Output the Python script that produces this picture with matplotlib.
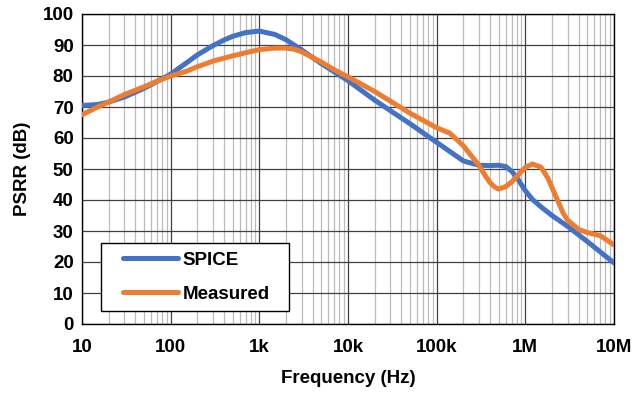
import numpy as np
import matplotlib.pyplot as plt
from matplotlib.patches import Rectangle
from matplotlib.ticker import LogLocator, FixedLocator, NullFormatter

# Данные
spice_f = [10, 15, 20, 30, 50, 70, 100, 150, 200, 300, 400, 500, 700, 1e3, 1.5e3, 2e3, 3e3, 5e3,
           1e4, 2e4, 5e4, 1e5, 2e5, 3e5, 4e5, 5e5, 6e5, 7e5, 8e5, 1e6, 1.2e6, 1.5e6, 2e6, 3e6, 5e6, 1e7]
spice_db = [70.5, 70.8, 71.6, 73.2, 76, 78.2, 80.6, 84.2, 86.8, 89.8, 91.6, 92.8, 94.0, 94.5, 93.4, 91.7, 88.4, 84,
            78.5, 72.2, 64.6, 58.6, 52.6, 51.2, 51.1, 51.2, 50.8, 49.3, 47.3, 43.0, 40.2, 37.8, 35, 31.5, 26.6, 19.7]

meas_f = [10, 15, 20, 30, 50, 70, 100, 150, 200, 300, 500, 700, 1e3, 1.5e3, 2e3, 2.5e3, 3e3, 5e3,
          7e3, 1e4, 1.2e4, 2e4, 5e4, 1e5, 1.4e5, 2e5, 2.5e5, 3e5, 3.5e5, 4e5, 4.5e5, 5e5, 6e5, 7e5,
          8e5, 1e6, 1.2e6, 1.5e6, 1.8e6, 2e6, 2.3e6, 2.7e6, 3e6, 4e6, 5e6, 7e6, 1e7]
meas_db = [67.5, 70, 71.6, 74, 76.5, 78.3, 80, 81.5, 83, 84.8, 86.5, 87.5, 88.5, 89, 89, 88.6, 87.8, 84.5,
           82, 79.7, 78.5, 75, 68, 63.3, 61.6, 57.5, 54, 51.2, 48, 45.6, 44.2, 43.5, 44.3, 45.8,
           47.6, 50.5, 51.6, 50.6, 47, 44, 40, 35.5, 33.5, 30.5, 29.5, 28.5, 25.5]

plt.rcParams['font.family'] = ['Liberation Sans', 'DejaVu Sans']
plt.rcParams['font.weight'] = 'bold'
fs = 13.5

fig = plt.figure(figsize=(6.37, 3.94), dpi=100)
ax = fig.add_axes([82 / 637, 70 / 394, 532 / 637, 310 / 394])

ax.plot(spice_f, spice_db, color='#4472C4', lw=3.6, label='SPICE', solid_capstyle='round', zorder=3)
ax.plot(meas_f, meas_db, color='#ED7D31', lw=3.6, label='Measured', solid_capstyle='round', zorder=4)

ax.set_xscale('log')
ax.set_xlim(10, 1e7)
ax.set_ylim(0, 100)
ax.xaxis.set_major_locator(FixedLocator([10, 100, 1e3, 1e4, 1e5, 1e6, 1e7]))
ax.set_xticklabels(['10', '100', '1k', '10k', '100k', '1M', '10M'])
ax.xaxis.set_minor_locator(LogLocator(base=10, subs=np.arange(2, 10), numticks=20))
ax.xaxis.set_minor_formatter(NullFormatter())
ax.set_yticks(np.arange(0, 101, 10))

ax.grid(which='major', axis='both', color='#404040', lw=0.9)
ax.grid(which='minor', axis='x', color='#BBBBBB', lw=0.9)
ax.tick_params(which='both', length=0)
ax.tick_params(axis='x', pad=11, labelsize=fs)
ax.tick_params(axis='y', pad=6, labelsize=fs)
for s in ax.spines.values():
    s.set_color('black')
    s.set_linewidth(1)

ax.set_xlabel('Frequency (Hz)', fontsize=fs, fontweight='bold', labelpad=10)
ax.set_ylabel('PSRR (dB)', fontsize=fs, fontweight='bold', labelpad=8)

# рамка легенды
ax.add_patch(Rectangle((19 / 532, 13 / 310), 188 / 532, 68 / 310, transform=ax.transAxes,
                       facecolor='white', edgecolor='black', lw=1, zorder=5))
leg = ax.legend(loc='center left', bbox_to_anchor=(32 / 532, 47 / 310), fontsize=fs,
                frameon=False, handlelength=2.9, handletextpad=0.27, labelspacing=0.9, borderpad=0)
leg.set_zorder(6)

fig.savefig('out.png', dpi=100)
